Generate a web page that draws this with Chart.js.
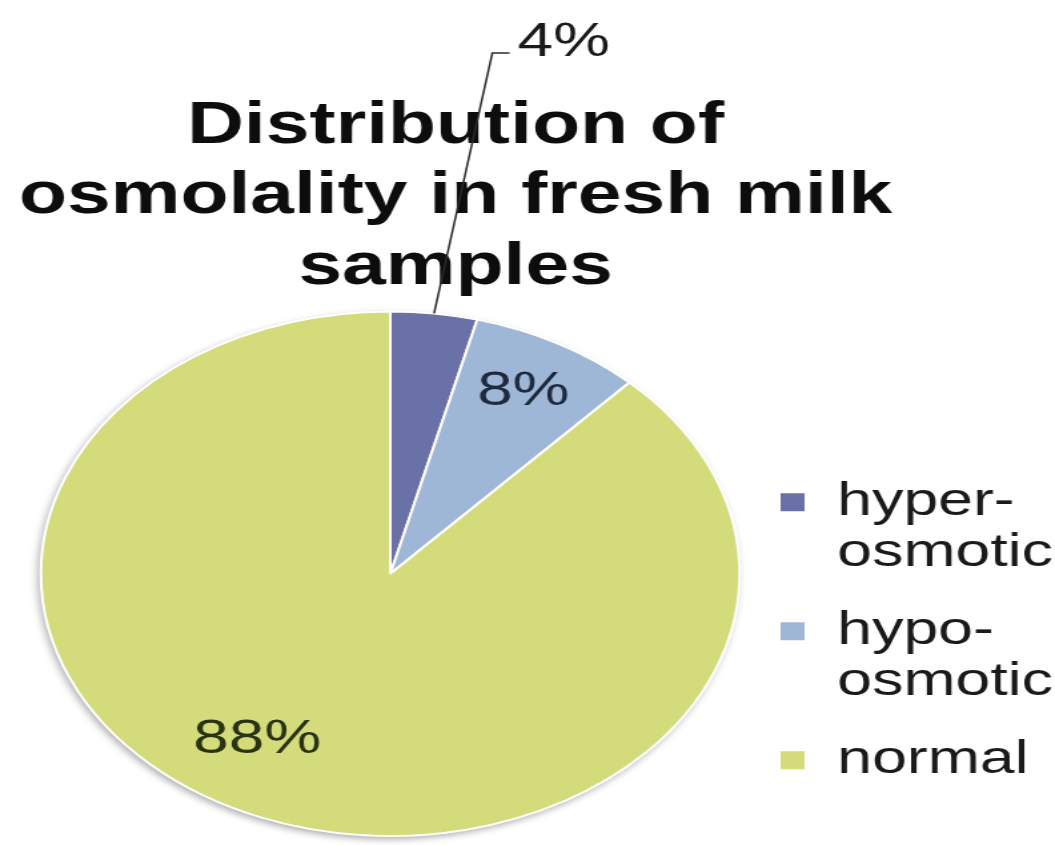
<!DOCTYPE html>
<html>
<head>
<meta charset="utf-8">
<script src="https://cdn.jsdelivr.net/npm/chart.js@4.4.1/dist/chart.umd.min.js"></script>
<style>
  html, body { margin: 0; padding: 0; background: #ffffff; overflow: hidden; width: 1055px; height: 845px; }
  /* the chart is drawn narrow and widened horizontally, like the original wide-format figure */
  #wrap { position: absolute; left: 0; top: 0; width: 800px; height: 845px; transform: scaleX(1.332); transform-origin: 0 0; }
</style>
</head>
<body>
<div id="wrap"><canvas id="chart"></canvas></div>
<script>
// ---- data ----
const titleLines = ['Distribution of', 'osmolality in fresh milk', 'samples'];
const categories = [['hyper-', 'osmotic'], ['hypo-', 'osmotic'], 'normal'];
const shares = [4, 8, 88];           // percent of samples
const sliceColors = ['#6a71a6', '#9fb7d7', '#d3db7a'];
const labelColors = ['#1a1a1a', '#1e2a3e', '#2a3212'];

const FAMILY = "'Liberation Sans', Arial, Helvetica, sans-serif";

// soft drop shadow under the pie
const pieShadow = {
  id: 'pieShadow',
  beforeDatasetsDraw(chart) {
    const meta = chart.getDatasetMeta(0);
    if (!meta.data.length) return;
    const { x, y, outerRadius } = meta.data[0].getProps(['x', 'y', 'outerRadius'], true);
    const ctx = chart.ctx;
    ctx.save();
    ctx.shadowColor = 'rgba(0,0,0,0.35)';
    ctx.shadowBlur = 7;
    ctx.shadowOffsetX = -2;
    ctx.shadowOffsetY = 3;
    ctx.fillStyle = '#ffffff';
    ctx.beginPath();
    ctx.arc(x, y, outerRadius, 0, Math.PI * 2);
    ctx.fill();
    ctx.restore();
  }
};

// percentage labels: inside the big slices, with a leader line for the thin one
const sliceLabels = {
  id: 'sliceLabels',
  afterDatasetsDraw(chart, args, opts) {
    const meta = chart.getDatasetMeta(0);
    const ctx = chart.ctx;
    meta.data.forEach((arc, i) => {
      const p = arc.getProps(['x', 'y', 'startAngle', 'endAngle', 'outerRadius'], true);
      const R = p.outerRadius;
      const mid = (p.startAngle + p.endAngle) / 2;
      const place = opts.placement[i];
      const text = shares[i] + '%';
      ctx.save();
      ctx.font = opts.size + 'px ' + FAMILY;
      ctx.fillStyle = labelColors[i];
      if (place.leader) {
        const sx = p.x + Math.cos(mid) * R;
        const sy = p.y + Math.sin(mid) * R;
        const ex = p.x + place.leader.dx * R;
        const ey = p.y + place.leader.dy * R;
        ctx.strokeStyle = '#2a2a2a';
        ctx.lineWidth = 1.5;
        ctx.beginPath();
        ctx.moveTo(sx, sy);
        ctx.lineTo(ex, ey);
        ctx.lineTo(ex + place.leader.tick, ey);
        ctx.stroke();
        ctx.textAlign = 'left';
        ctx.textBaseline = 'alphabetic';
        ctx.fillText(text, ex + place.leader.tick + 6, ey + 3);
      } else {
        const a = mid + place.turn * Math.PI / 180;
        const r = place.r * R;
        ctx.textAlign = 'center';
        ctx.textBaseline = 'middle';
        ctx.fillText(text, p.x + Math.cos(a) * r, p.y + Math.sin(a) * r);
      }
      ctx.restore();
    });
  }
};

// centre the title block on a chosen x position
const titlePlacement = {
  id: 'titlePlacement',
  afterLayout(chart, args, opts) {
    const t = chart.titleBlock;
    if (!t) return;
    const half = (t.right - t.left) / 2;
    t.left = opts.centerX - half;
    t.right = opts.centerX + half;
  }
};

new Chart(document.getElementById('chart'), {
  type: 'pie',
  data: {
    labels: categories,
    datasets: [{
      data: shares,
      backgroundColor: sliceColors,
      borderColor: '#ffffff',
      borderWidth: 2
    }]
  },
  plugins: [pieShadow, sliceLabels, titlePlacement],
  options: {
    responsive: true,
    maintainAspectRatio: false,
    animation: false,
    devicePixelRatio: 1,
    layout: { padding: { left: 28, right: 0, top: 0, bottom: 8 } },
    plugins: {
      tooltip: { enabled: false },
      title: {
        display: true,
        text: titleLines,
        color: '#0d0d0d',
        font: { family: FAMILY, size: 59, weight: 'bold', lineHeight: 1.2 },
        padding: { top: 91, bottom: 7 }
      },
      legend: {
        position: 'right',
        align: 'center',
        fullSize: false,
        maxWidth: 242,
        title: { display: true, text: '', font: { size: 12 }, padding: { top: 0, bottom: 100.6 } },
        labels: {
          boxWidth: 20,
          boxHeight: 20,
          padding: 27,
          color: '#1a1a1a',
          font: { family: FAMILY, size: 47, lineHeight: 1.085 }
        }
      },
      titlePlacement: { centerX: 342 },
      sliceLabels: {
        size: 48,
        placement: [
          { leader: { dx: 0.292, dy: -1.985, tick: 13 } },
          { r: 0.79, turn: 0 },
          { r: 0.74, turn: 9.4 }
        ]
      }
    }
  }
});
</script>
</body>
</html>
